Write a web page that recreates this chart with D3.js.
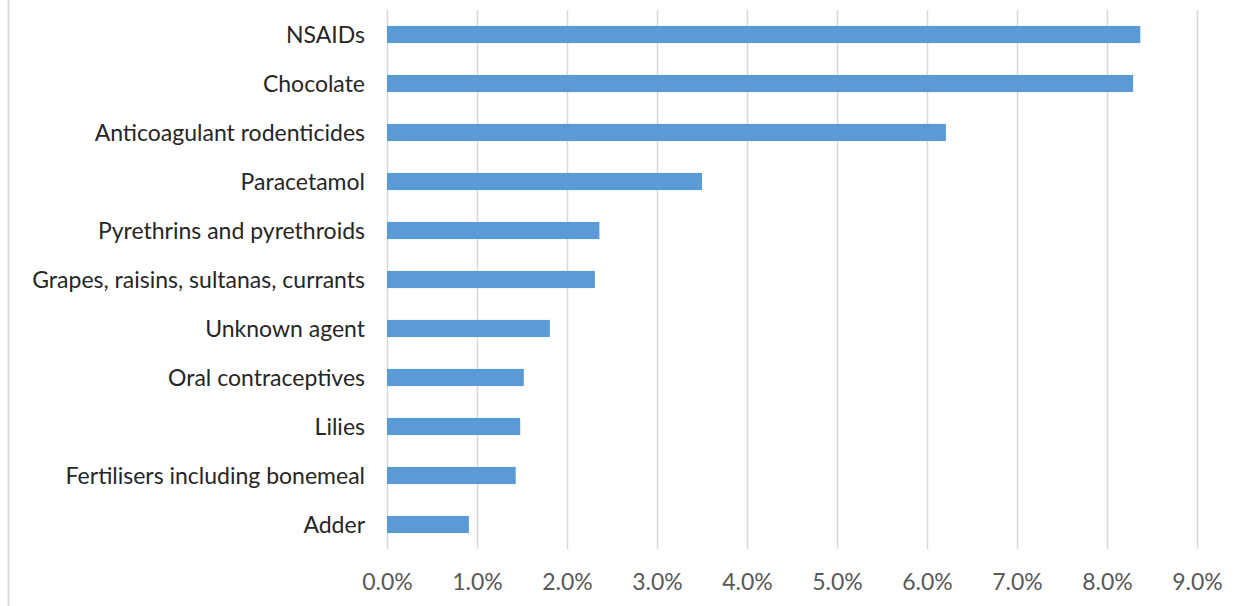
<!DOCTYPE html>
<html>
<head>
<meta charset="utf-8">
<script src="https://cdn.jsdelivr.net/npm/d3@7"></script>
<style>
  body { margin: 0; background: #fff; }
  svg { display: block; }
</style>
</head>
<body>
<div id="chart"></div>
<script>
const categories = [
    "NSAIDs",
    "Chocolate",
    "Anticoagulant rodenticides",
    "Paracetamol",
    "Pyrethrins and pyrethroids",
    "Grapes, raisins, sultanas, currants",
    "Unknown agent",
    "Oral contraceptives",
    "Lilies",
    "Fertilisers including bonemeal",
    "Adder"
];
const values = [8.37, 8.29, 6.21, 3.50, 2.36, 2.31, 1.81, 1.52, 1.48, 1.43, 0.91];
const tickValues = [0, 1, 2, 3, 4, 5, 6, 7, 8, 9];

const width = 1238, height = 606;
const margin = { top: 10, right: 41, bottom: 57, left: 387 };

const svg = d3.select("#chart")
    .append("svg")
    .attr("width", width)
    .attr("height", height);

// thin frame line on the left edge
svg.append("line")
    .attr("x1", 8.5).attr("x2", 8.5)
    .attr("y1", 0).attr("y2", height)
    .attr("stroke", "#d9d9d9")
    .attr("stroke-width", 2);

const x = d3.scaleLinear()
    .domain([0, 9])
    .range([margin.left, width - margin.right]);

const y = d3.scaleBand()
    .domain(categories)
    .range([margin.top, height - margin.bottom])
    .paddingInner(0.65)
    .paddingOuter(0.325);

// gridlines
svg.append("g")
    .selectAll("line")
    .data(tickValues)
    .join("line")
    .attr("x1", d => Math.round(x(d)) + 0.5)
    .attr("x2", d => Math.round(x(d)) + 0.5)
    .attr("y1", margin.top)
    .attr("y2", height - margin.bottom)
    .attr("stroke", "#d9d9d9")
    .attr("stroke-width", 1.5);

// bars
svg.append("g")
    .selectAll("rect")
    .data(values)
    .join("rect")
    .attr("x", x(0))
    .attr("y", (d, i) => y(categories[i]))
    .attr("width", d => x(d) - x(0))
    .attr("height", y.bandwidth())
    .attr("fill", "#5b9bd5");

// category labels
svg.append("g")
    .selectAll("text")
    .data(categories)
    .join("text")
    .attr("x", margin.left - 22)
    .attr("y", d => y(d) + y.bandwidth() / 2)
    .attr("dy", "0.35em")
    .attr("text-anchor", "end")
    .style("font-family", "Lato, 'Noto Sans', sans-serif")
    .style("font-size", "23px")
    .style("fill", "#262626")
    .text(d => d);

// x axis labels
const axis = d3.axisBottom(x)
    .tickValues(tickValues)
    .tickFormat(d => d.toFixed(1) + "%")
    .tickSize(0)
    .tickPadding(0);

const gx = svg.append("g")
    .attr("transform", `translate(0, ${height - margin.bottom})`)
    .call(axis);
gx.select(".domain").remove();
gx.selectAll("text")
    .attr("y", 33)
    .attr("dy", "0.35em")
    .style("font-family", "Lato, 'Noto Sans', sans-serif")
    .style("font-size", "23px")
    .style("fill", "#595959");
</script>
</body>
</html>
